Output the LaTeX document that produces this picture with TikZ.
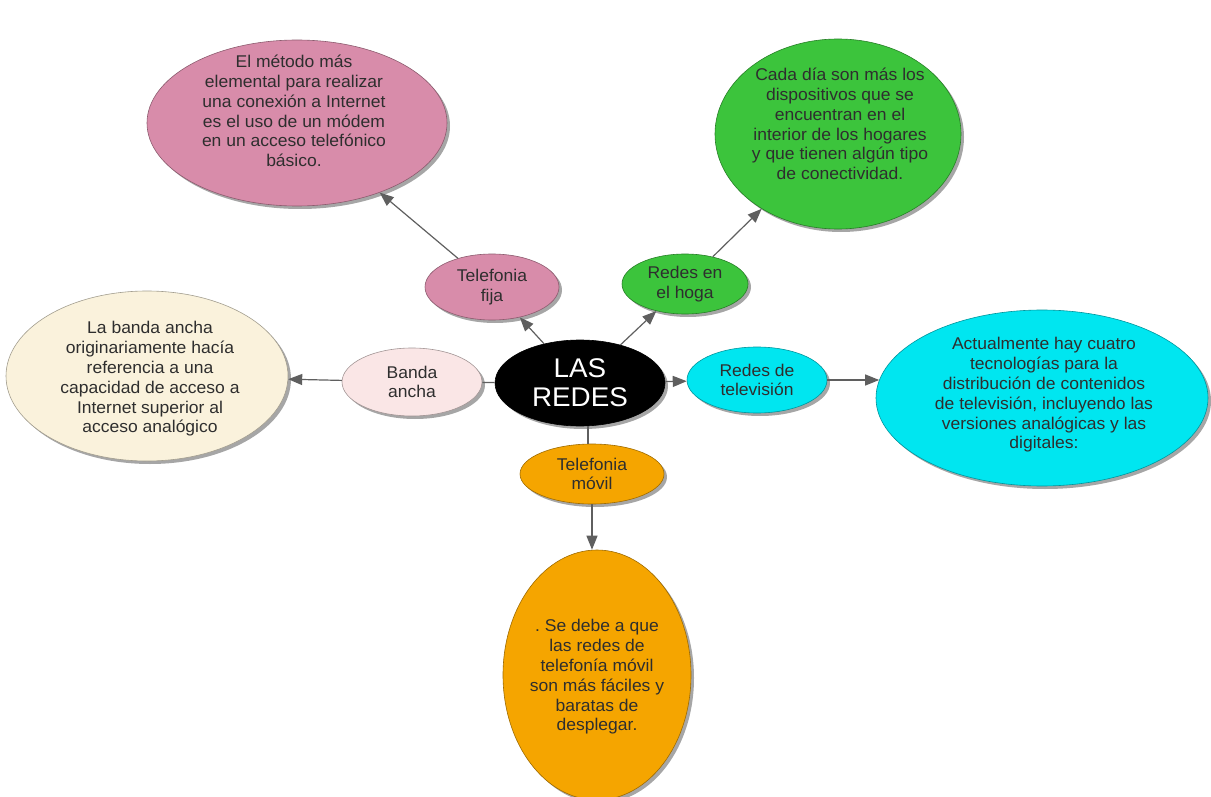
\documentclass[tikz,border=0pt]{standalone}
\usepackage{fontspec}
\setmainfont{Liberation Sans}[FakeStretch=1.03]
\usetikzlibrary{shapes.geometric,shadows,arrows.meta}
\definecolor{cpink}{RGB}{216,140,170}
\definecolor{cgreen}{RGB}{60,196,60}
\definecolor{ccream}{RGB}{250,242,220}
\definecolor{cblush}{RGB}{250,230,230}
\definecolor{ccyan}{RGB}{0,230,240}
\definecolor{corange}{RGB}{245,165,0}
\definecolor{cline}{RGB}{95,95,95}
\frenchspacing
\begin{document}
\begin{tikzpicture}[x=1pt,y=-1pt,
  ell/.style={ellipse, fill=#1, draw=#1!65!black, line width=0.6pt, inner sep=0pt,
    drop shadow={shadow xshift=3pt,shadow yshift=-3pt,fill=black,opacity=0.35}},
  txt/.style={align=center, font=\fontsize{17}{19.8}\selectfont, text=black!82},
  conn/.style={draw=cline, line width=1.2pt},
  arr/.style={conn, -{Triangle[length=14pt,width=11pt]}}]
\useasboundingbox (0,0) rectangle (1211,797);

% big ellipses
\node[ell=cpink, minimum width=300, minimum height=166] (p1) at (297,123) {};
\node[txt] (p1t) at (294,111) {El método más\\elemental para realizar\\una conexión a Internet\\es el uso de un módem\\en un acceso telefónico\\básico.};
\node[ell=cgreen, minimum width=246, minimum height=190] (g1) at (838,134) {};
\node[txt] (g1t) at (840,124) {Cada día son más los\\dispositivos que se\\encuentran en el\\interior de los hogares\\y que tienen algún tipo\\de conectividad.};
\node[ell=ccream, minimum width=282, minimum height=170] (cr1) at (147,376) {};
\node[txt] (cr1t) at (150,379) {La banda ancha\\originariamente hacía\\referencia a una\\capacidad de acceso a\\Internet superior al\\acceso analógico};
\node[ell=ccyan, minimum width=332, minimum height=176] (cy1) at (1042,398) {};
\node[txt] (cy1t) at (1044,395) {Actualmente hay cuatro\\tecnologías para la\\distribución de contenidos\\de televisión, incluyendo las\\versiones analógicas y las\\digitales:};
\node[ell=corange, minimum width=188, minimum height=250] (or1) at (597,675) {};
\node[txt] (or1t) at (597,677) {. Se debe a que\\las redes de\\telefonía móvil\\son más fáciles y\\baratas de\\desplegar.};

% small ellipses
\node[ell=cpink, minimum width=134, minimum height=66, txt] (tf) at (492,287) {Telefonia\\fija};
\node[ell=cgreen, minimum width=126, minimum height=60, txt] (rh) at (685,284) {Redes en\\el hoga};
\node[ell=cblush, minimum width=140, minimum height=68, txt] (ba) at (412,382) {Banda\\ancha};
\node[ell=ccyan, minimum width=140, minimum height=66, txt] (rt) at (757,380) {Redes de\\televisión};
\node[ell=corange, minimum width=144, minimum height=60, txt] (tm) at (592,474) {Telefonia\\móvil};

% center
\node[ell=black, minimum width=170, minimum height=86, align=center, text=white,
  font=\fontsize{27}{29}\selectfont] (c) at (580,383) {LAS\\REDES};

% connectors
\draw[arr] (c) -- (tf);
\draw[arr] (tf) -- (p1);
\draw[arr] (c) -- (rh);
\draw[arr] (rh) -- (g1);
\draw[conn] (c) -- (ba);
\draw[arr] (ba) -- (cr1);
\draw[arr] (c) -- (rt);
\draw[arr] (rt.east) -- ([xshift=3.5pt]rt.east -| cy1.west);
\draw[conn] (c.south -| tm.north) ++(-4,0) coordinate (cs) -- (cs |- tm.north);
\draw[arr] (tm.south) -- (tm.south |- or1.north);
\end{tikzpicture}
\end{document}
